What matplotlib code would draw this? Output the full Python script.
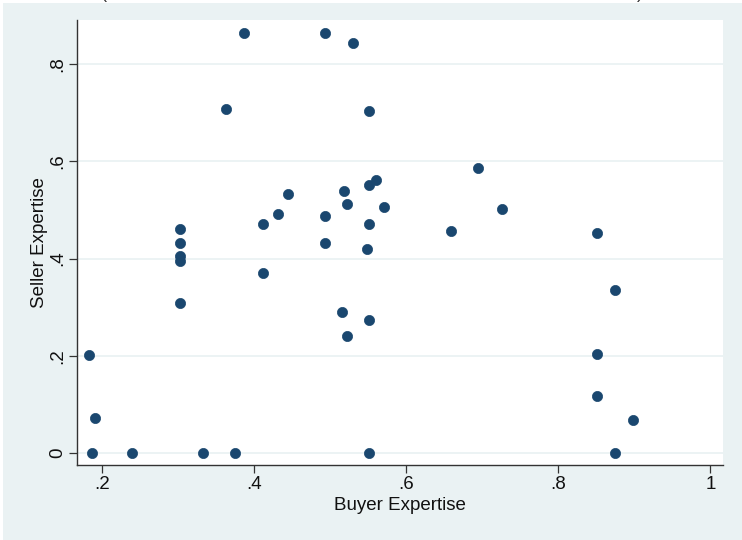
import matplotlib
matplotlib.use("Agg")
import matplotlib.pyplot as plt
from matplotlib.patches import Rectangle

# Buyer / seller expertise pairs
buyer_expertise = [
    0.387, 0.363, 0.444, 0.431, 0.411, 0.302, 0.302,
    0.493, 0.530, 0.551, 0.694, 0.560, 0.551, 0.518, 0.522, 0.570, 0.726,
    0.493, 0.551, 0.659, 0.493,
    0.851,
    0.302, 0.302, 0.302, 0.411, 0.182, 0.190, 0.186, 0.239, 0.332, 0.375,
    0.548, 0.515, 0.551, 0.522, 0.551,
    0.874, 0.851, 0.851, 0.898, 0.874,
]
seller_expertise = [
    0.865, 0.708, 0.532, 0.491, 0.471, 0.461, 0.433,
    0.865, 0.843, 0.704, 0.586, 0.562, 0.551, 0.539, 0.512, 0.506, 0.502,
    0.488, 0.471, 0.456, 0.433,
    0.452,
    0.405, 0.396, 0.308, 0.370, 0.2016, 0.071, 0.0, 0.0, 0.0, 0.0,
    0.420, 0.290, 0.273, 0.241, 0.0,
    0.336, 0.204, 0.117, 0.0686, 0.0,
]
x_ticks = [0.2, 0.4, 0.6, 0.8, 1.0]
x_tick_labels = [".2", ".4", ".6", ".8", "1"]
y_ticks = [0.0, 0.2, 0.4, 0.6, 0.8]
y_tick_labels = ["0", ".2", ".4", ".6", ".8"]

W, H = 742, 540
BG = "#EAF2F3"
NAVY = "#1A476F"
plt.rcParams["font.family"] = ["Liberation Sans", "DejaVu Sans"]

fig = plt.figure(figsize=(W / 100, H / 100), dpi=100, facecolor="white")
fig.patches.append(Rectangle((3 / W, 0), 1 - 3 / W, 1 - 3 / H,
                             transform=fig.transFigure, facecolor=BG,
                             edgecolor="none", zorder=-10))

# clipped title line above the graph
fig.text(104 / W, 1 + 1.5 / H, "(", fontsize=13, color="#333333",
         ha="center", va="baseline")
fig.text(640 / W, 1 + 1.5 / H, ")", fontsize=13, color="#333333",
         ha="center", va="baseline")

left, right, bottom, top = 77.3, 722.5, 464.5, 20
ax = fig.add_axes([left / W, 1 - bottom / H, (right - left) / W, (bottom - top) / H])
ax.set_facecolor("white")

ax.scatter(buyer_expertise, seller_expertise, s=54, color=NAVY,
           edgecolor=NAVY, linewidth=0.5, zorder=3, clip_on=False)

ax.set_xlim(0.1671, 1.016)
ax.set_ylim(-0.0237, 0.891)

ax.set_xticks(x_ticks)
ax.set_xticklabels(x_tick_labels)
ax.set_yticks(y_ticks)
ax.set_yticklabels(y_tick_labels, rotation=90, va="center")

ax.tick_params(axis="both", direction="out", length=5.5, width=0.9,
               color="#333333", labelsize=13.5, labelcolor="#111111")
ax.tick_params(axis="x", pad=2.5)
ax.tick_params(axis="y", pad=2.5)

ax.grid(axis="y", color=BG, linewidth=1.3, zorder=0)
ax.set_axisbelow(True)

for side in ("top", "right"):
    ax.spines[side].set_visible(False)
for side in ("left", "bottom"):
    ax.spines[side].set_color("#333333")
    ax.spines[side].set_linewidth(1.0)

ax.set_xlabel("Buyer Expertise", fontsize=13.5, color="#111111", labelpad=3)
ax.set_ylabel("Seller Expertise", fontsize=13.5, color="#111111", labelpad=1)

fig.savefig("out.png", dpi=100, facecolor=fig.get_facecolor())
